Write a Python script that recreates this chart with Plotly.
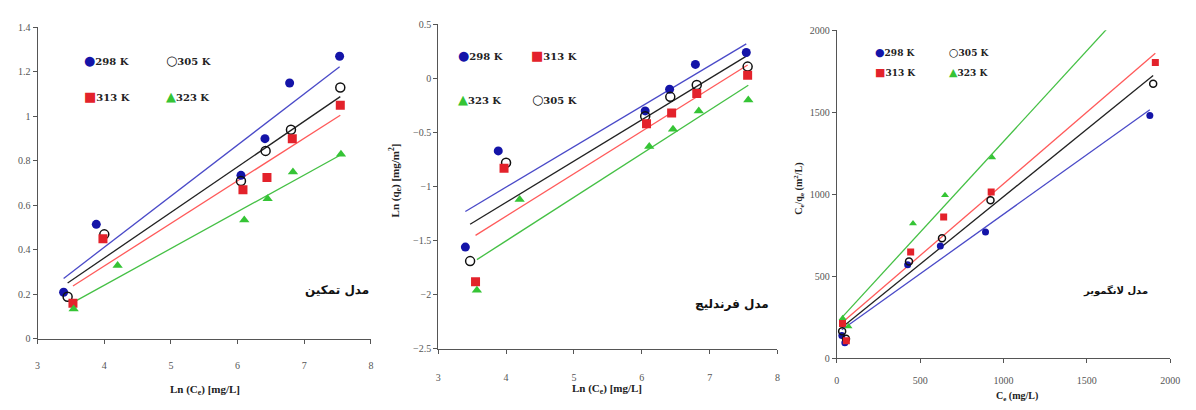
import numpy as np
import plotly.graph_objects as go

# ---------------- data ----------------
series = ["298 K", "305 K", "313 K", "323 K"]

# Temkin: qe vs Ln(Ce)
t_x_298 = [3.39, 3.88, 6.05, 6.41, 6.78, 7.53]
t_y_298 = [0.21, 0.515, 0.735, 0.90, 1.15, 1.27]
t_x_305 = [3.45, 4.00, 6.05, 6.42, 6.80, 7.54]
t_y_305 = [0.19, 0.47, 0.71, 0.845, 0.94, 1.13]
t_x_313 = [3.53, 3.98, 6.08, 6.44, 6.82, 7.54]
t_y_313 = [0.16, 0.45, 0.67, 0.725, 0.90, 1.05]
t_x_323 = [3.54, 4.20, 6.10, 6.45, 6.83, 7.55]
t_y_323 = [0.135, 0.33, 0.535, 0.63, 0.75, 0.83]

# Freundlich: Ln(qe) vs Ln(Ce)
f_x_298 = [3.40, 3.885, 6.05, 6.41, 6.79, 7.54]
f_y_298 = [-1.56, -0.67, -0.30, -0.10, 0.13, 0.24]
f_x_305 = [3.47, 4.00, 6.05, 6.42, 6.81, 7.56]
f_y_305 = [-1.69, -0.78, -0.35, -0.17, -0.06, 0.11]
f_x_313 = [3.55, 3.97, 6.07, 6.44, 6.81, 7.56]
f_y_313 = [-1.88, -0.83, -0.42, -0.32, -0.14, 0.03]
f_x_323 = [3.57, 4.20, 6.11, 6.46, 6.84, 7.57]
f_y_323 = [-1.96, -1.12, -0.63, -0.47, -0.30, -0.20]

# Langmuir: Ce/qe vs Ce
l_x_298 = [30, 48, 425, 621, 892, 1878]
l_y_298 = [140, 95, 570, 685, 771, 1481]
l_x_305 = [32, 55, 433, 631, 922, 1898]
l_y_305 = [165, 120, 590, 732, 964, 1674]
l_x_313 = [34, 57, 443, 641, 926, 1911]
l_y_313 = [212, 107, 649, 862, 1014, 1803]
l_x_323 = [35, 70, 457, 649, 932, 1902]
l_y_323 = [244, 195, 822, 994, 1225, 2290]

t_xticks = [3, 4, 5, 6, 7, 8]
t_yticks = [0, 0.2, 0.4, 0.6, 0.8, 1, 1.2, 1.4]
f_xticks = [3, 4, 5, 6, 7, 8]
f_yticks = [0.5, 0, -0.5, -1, -1.5, -2, -2.5]
l_xticks = [0, 500, 1000, 1500, 2000]
l_yticks = [0, 500, 1000, 1500, 2000]

model_names = ["مدل تمکین", "مدل فرندلیچ", "مدل لانگمویر"]

# ---------------- styles ----------------
W, H = 1196, 410
marker_style = {
    "298 K": dict(symbol="circle", color="#1414a8", line=dict(width=0)),
    "305 K": dict(symbol="circle-open", color="#111111", line=dict(width=1.5)),
    "313 K": dict(symbol="square", color="#e3222b", line=dict(width=0)),
    "323 K": dict(symbol="triangle-up", color="#35c435", line=dict(width=0)),
}
line_color = {"298 K": "#4a4ac8", "305 K": "#222222", "313 K": "#ff5a5a", "323 K": "#45c045"}
legend_sym = {"298 K": ("●", "#1414a8"), "305 K": ("○", "#111111"),
              "313 K": ("■", "#e3222b"), "323 K": ("▲", "#35c435")}

def px_x(p):
    return p / W

def px_y(p):
    return 1 - p / H

panels = [
    dict(data={"298 K": (t_x_298, t_y_298), "305 K": (t_x_305, t_y_305),
               "313 K": (t_x_313, t_y_313), "323 K": (t_x_323, t_y_323)},
         xdom=(35, 372), ydom=(22, 343), xr=(3, 8), yr=(0, 1.4),
         xt=t_xticks, yt=t_yticks, msize=9, xstand=13),
    dict(data={"298 K": (f_x_298, f_y_298), "305 K": (f_x_305, f_y_305),
               "313 K": (f_x_313, f_y_313), "323 K": (f_x_323, f_y_323)},
         xdom=(440, 783), ydom=(19, 353), xr=(3, 8), yr=(-2.5, 0.5),
         xt=f_xticks, yt=f_yticks, msize=9, xstand=15),
    dict(data={"298 K": (l_x_298, l_y_298), "305 K": (l_x_305, l_y_305),
               "313 K": (l_x_313, l_y_313), "323 K": (l_x_323, l_y_323)},
         xdom=(843, 1180), ydom=(25, 363), xr=(0, 2000), yr=(0, 2000),
         xt=l_xticks, yt=l_yticks, msize=7, xstand=9),
]

fig = go.Figure()
layout = dict(width=W, height=H, margin=dict(l=0, r=0, t=0, b=0),
              paper_bgcolor="white", plot_bgcolor="white", showlegend=False,
              font=dict(family="Liberation Serif", size=10, color="#444"))

tickfont = dict(family="Liberation Serif", size=10, color="#555")

for i, p in enumerate(panels):
    sfx = "" if i == 0 else str(i + 1)
    xa, ya = "x" + sfx, "y" + sfx
    for s in series:
        xs, ys = p["data"][s]
        coef = np.polyfit(xs, ys, 1)
        lx = np.array([min(xs), max(xs)])
        fig.add_trace(go.Scatter(x=lx, y=np.polyval(coef, lx), mode="lines",
                                 line=dict(color=line_color[s], width=1.3),
                                 xaxis=xa, yaxis=ya, hoverinfo="skip"))
    for s in series:
        xs, ys = p["data"][s]
        ms = marker_style[s]
        fig.add_trace(go.Scatter(x=xs, y=ys, mode="markers", name=s,
                                 marker=dict(symbol=ms["symbol"], color=ms["color"],
                                             size=p["msize"], line=ms["line"]),
                                 xaxis=xa, yaxis=ya))
    layout["xaxis" + sfx] = dict(
        domain=[px_x(p["xdom"][0]), px_x(p["xdom"][1])], range=list(p["xr"]),
        anchor=ya, tickvals=p["xt"], showgrid=False, zeroline=False,
        showline=True, linecolor="#555", linewidth=1, ticks="outside",
        ticklen=4, tickcolor="#555", tickfont=tickfont,
        ticklabelstandoff=p["xstand"])
    layout["yaxis" + sfx] = dict(
        domain=[px_y(p["ydom"][1]), px_y(p["ydom"][0])], range=list(p["yr"]),
        anchor=xa, tickvals=p["yt"], showgrid=False, zeroline=False,
        showline=True, linecolor="#555", linewidth=1, ticks="outside",
        ticklen=4, tickcolor="#555", tickfont=tickfont)

ann = []

def text_ann(txt, x, y, size=11, angle=0, family="Liberation Serif", color="#222"):
    ann.append(dict(text=txt, x=px_x(x), y=px_y(y), xref="paper", yref="paper",
                    showarrow=False, xanchor="center", yanchor="middle",
                    textangle=angle, font=dict(family=family, size=size, color=color)))

def legend_ann(s, x, y, size=11, symsize=14):
    sym, col = legend_sym[s]
    txt = "<span style='color:%s;font-size:%dpx'>%s</span><b>%s</b>" % (col, symsize, sym, s)
    ann.append(dict(text=txt, x=px_x(x), y=px_y(y), xref="paper", yref="paper",
                    showarrow=False, xanchor="left", yanchor="middle",
                    font=dict(family="DejaVu Serif", size=size, color="#222")))

# legends
legend_layout = [
    [("298 K", 80, 56), ("305 K", 163, 56), ("313 K", 80, 93), ("323 K", 163, 93)],
    [("298 K", 458, 51), ("313 K", 532, 51), ("323 K", 458, 96), ("305 K", 533, 96)],
    [("298 K", 880, 48), ("305 K", 954, 48), ("313 K", 880, 69), ("323 K", 954, 69)],
]
for i, items in enumerate(legend_layout):
    for s, x, y in items:
        if i < 2:
            legend_ann(s, x, y, size=10, symsize=13)
        else:
            legend_ann(s, x, y, size=9, symsize=11)

# axis titles
text_ann("<b>Ln (C<sub>e</sub>) [mg/L]</b>", 204, 396, size=11)
text_ann("<b>Ln (C<sub>e</sub>) [mg/L]</b>", 611, 395, size=11)
text_ann("<b>Ln (q<sub>e</sub>) [mg/m<sup>2</sup>]</b>", 396, 180, size=11, angle=-90)
text_ann("<b>C<sub>e</sub>/q<sub>e</sub> (m<sup>2</sup>/L)</b>", 805, 188, size=10, angle=-90)
text_ann("<b>C<sub>e</sub> (mg/L)</b>", 1025, 402, size=10)

# model names
text_ann("<b>%s</b>" % model_names[0], 338, 293, size=12, family="DejaVu Sans", color="#111")
text_ann("<b>%s</b>" % model_names[1], 737, 307, size=12, family="DejaVu Sans", color="#111")
text_ann("<b>%s</b>" % model_names[2], 1125, 293, size=10, family="DejaVu Sans", color="#111")

layout["annotations"] = ann
fig.update_layout(**layout)
fig.write_html("out.html", config={"displayModeBar": False},
               post_script="document.body.style.margin='0';document.body.style.overflow='hidden';")
